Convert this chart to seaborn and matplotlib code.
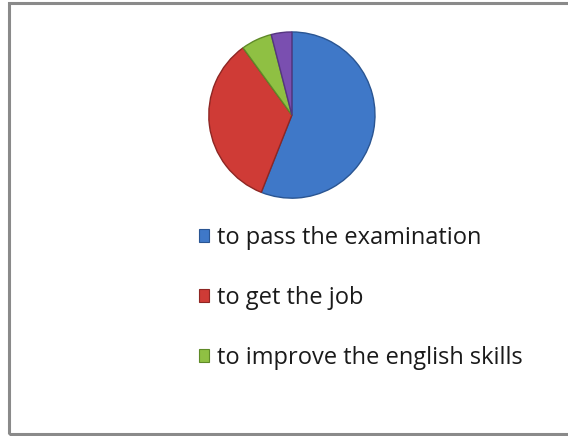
import matplotlib
matplotlib.use("Agg")
import matplotlib.pyplot as plt
from matplotlib.patches import Rectangle
import seaborn as sns

# Reasons for learning English (share of respondents, %)
reasons = ["to pass the examination", "to get the job",
           "to improve the english skills", "other"]
shares = [56, 34, 6, 4]
colors = ["#3f78c8", "#cf3b36", "#8fc043", "#7a4fb0"]
edge_colors = ["#2a5592", "#8e2623", "#5f8a28", "#553580"]

sns.set_theme(style="white")
plt.rcParams["font.family"] = ["Open Sans", "DejaVu Sans"]

fig = plt.figure(figsize=(5.68, 4.36), dpi=100)
fig.patch.set_facecolor("white")

# outer chart border
fig.add_artist(Rectangle((8.5 / 568, 1 - 434 / 436), 2.0, (434 - 3) / 436,
                         transform=fig.transFigure, fill=False,
                         edgecolor="#8a8a8a", linewidth=2.2))

ax = fig.add_axes([0.366, 0.5436, 0.2958, 0.385])
wedges, _ = ax.pie(shares, colors=colors, startangle=90, counterclock=False,
                   wedgeprops=dict(linewidth=1.0))
for w, ec in zip(wedges, edge_colors):
    w.set_edgecolor(ec)
ax.set_xlim(-1.01, 1.01)
ax.set_ylim(-1.01, 1.01)
ax.set_aspect("equal")

handles = [Rectangle((0, 0), 1, 1, facecolor=c, edgecolor=ec, linewidth=0.8)
           for c, ec in zip(colors[:3], edge_colors[:3])]
leg = fig.legend(handles, reasons[:3], loc="upper left",
                 bbox_to_anchor=(187 / 568, 1 - 214 / 436), frameon=False,
                 fontsize=17, handlelength=0.45, handleheight=0.45,
                 handletextpad=0.3, labelspacing=1.52, borderpad=0)
for t in leg.get_texts():
    t.set_color("#1a1a1a")

fig.savefig("out.png", dpi=100)
